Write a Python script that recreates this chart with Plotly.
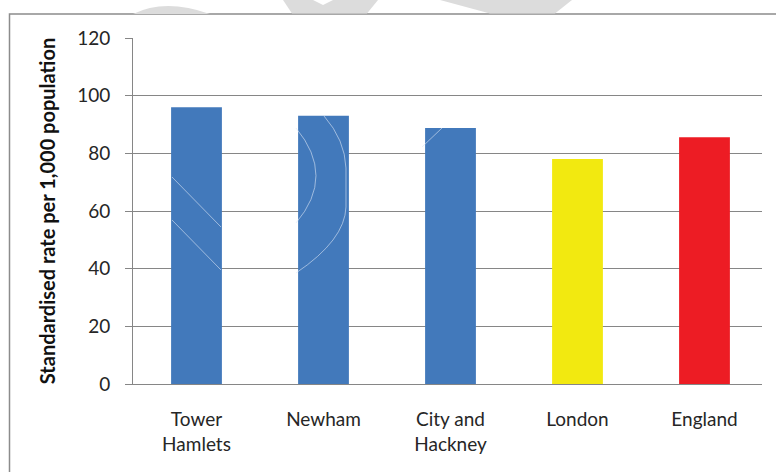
import plotly.graph_objects as go

# Standardised rates per 1,000 population
areas = ["Tower<br>Hamlets", "Newham", "City and<br>Hackney", "London", "England"]
rates = [96, 93, 88.8, 78, 85.6]
bar_colours = ["#4279BB", "#4279BB", "#4279BB", "#F2E910", "#ED1C24"]
y_ticks = [0, 20, 40, 60, 80, 100, 120]

W, H = 776, 472
L, R, T, B = 133, 762, 38, 384  # plot area in pixels


def px(x):
    return (x - L) / (R - L)


def py(y):
    return (B - y) / (B - T)


def path(points, close=True):
    d = "M " + " L ".join(f"{px(x):.4f},{py(y):.4f}" for x, y in points)
    return d + (" Z" if close else "")


fig = go.Figure(
    go.Bar(
        x=list(range(len(areas))),
        y=rates,
        marker=dict(color=bar_colours, line=dict(width=0)),
        width=0.4,
        hoverinfo="y",
    )
)

shapes = []
# outer frame around the chart
shapes.append(dict(type="rect", xref="paper", yref="paper",
                   x0=px(9.5), x1=px(790), y0=py(490), y1=py(14),
                   line=dict(color="#8C8C8C", width=1.5), layer="below"))
# faint background watermark fragments above the frame
wm = "#DCDCDC"
shapes.append(dict(type="path", xref="paper", yref="paper",
                   path=f"M {px(133):.4f},{py(14):.4f} Q {px(165):.4f},{py(-2):.4f} {px(210):.4f},{py(14):.4f} Z",
                   fillcolor=wm, line=dict(width=0), layer="below"))
shapes.append(dict(type="path", xref="paper", yref="paper",
                   path=path([(283, 0), (313, 0), (323, 5), (333, 0), (378, 0), (367, 13.5), (292, 13.5)]),
                   fillcolor=wm, line=dict(width=0), layer="below"))
shapes.append(dict(type="path", xref="paper", yref="paper",
                   path=path([(440, 0), (572, 0), (555, 13.5), (490, 13.5)]),
                   fillcolor=wm, line=dict(width=0), layer="below"))
# pale watermark outlines that show through the bars
pale = dict(color="rgba(220,230,245,0.6)", width=1)
for pts in [
    [(172, 177), (221, 227)],
    [(172, 220), (221, 270)],
    [(422, 147), (442, 128)],
]:
    shapes.append(dict(type="path", xref="paper", yref="paper",
                       path=path(pts, close=False), line=pale, layer="above"))
shapes.append(dict(type="path", xref="paper", yref="paper",
                   path=f"M {px(296):.4f},{py(128):.4f} Q {px(336):.4f},{py(176):.4f} {px(296):.4f},{py(223):.4f}",
                   line=pale, layer="above"))
shapes.append(dict(type="path", xref="paper", yref="paper",
                   path=(f"M {px(324):.4f},{py(116):.4f} Q {px(345):.4f},{py(140):.4f} {px(346):.4f},{py(168):.4f}"
                         f" L {px(346):.4f},{py(207):.4f} Q {px(345):.4f},{py(240):.4f} {px(296):.4f},{py(273):.4f}"),
                   line=pale, layer="above"))

fig.update_layout(
    width=W, height=H,
    margin=dict(l=L, r=W - R, t=T, b=H - B, pad=0),
    paper_bgcolor="white", plot_bgcolor="white",
    showlegend=False,
    bargap=0.6,
    font=dict(family="Lato, Open Sans, sans-serif", size=19, color="#262626"),
    shapes=shapes,
    xaxis=dict(
        tickmode="array", tickvals=list(range(len(areas))), ticktext=areas,
        range=[-0.5, -0.5 + (R - L) / 127],
        showgrid=False, zeroline=False,
        showline=True, linecolor="#868686", linewidth=1,
        ticks="", ticklabelstandoff=18,
        tickfont=dict(size=19),
        fixedrange=True,
    ),
    yaxis=dict(
        range=[0, 120], tickvals=y_ticks,
        showgrid=True, gridcolor="#868686", gridwidth=1,
        zeroline=False,
        showline=True, linecolor="#868686", linewidth=1,
        ticks="outside", ticklen=7, tickcolor="#868686",
        ticklabelstandoff=11,
        tickfont=dict(size=19),
        title=dict(text="<b>Standardised rate per 1,000 population</b>",
                   font=dict(size=20, color="#111111"), standoff=16),
        fixedrange=True,
    ),
)

fig.write_html("out.html")
